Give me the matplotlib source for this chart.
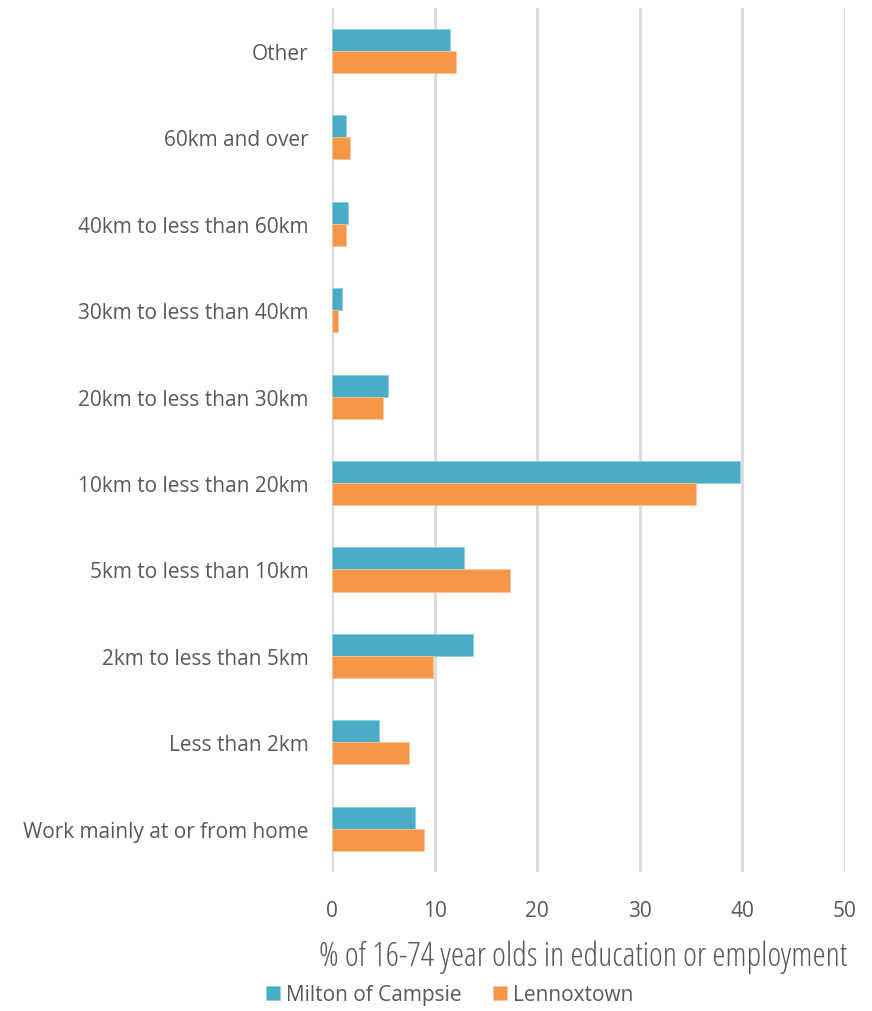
import matplotlib.pyplot as plt
import numpy as np

categories = ["Work mainly at or from home", "Less than 2km", "2km to less than 5km",
              "5km to less than 10km", "10km to less than 20km", "20km to less than 30km",
              "30km to less than 40km", "40km to less than 60km", "60km and over", "Other"]
milton = [8.1, 4.6, 13.7, 12.85, 39.8, 5.5, 1.0, 1.6, 1.4, 11.5]
lennox = [8.95, 7.5, 9.85, 17.4, 35.5, 5.0, 0.6, 1.4, 1.75, 12.1]
series_names = ["Milton of Campsie", "Lennoxtown"]
xticks = [0, 10, 20, 30, 40, 50]

blue = "#4BACC6"
orange = "#F79646"
grey = "#595959"

plt.rcParams['font.family'] = ['Open Sans', 'DejaVu Sans']

fig = plt.figure(figsize=(8.72, 10.12), dpi=100)
ax = fig.add_axes([0.3807, 0.1374, 0.5883, 0.8539])

y = np.arange(len(categories))
h = 0.255
ax.barh(y + h / 2, milton, height=h, color=blue, edgecolor="#8fcfe0", linewidth=0.6,
        label=series_names[0], zorder=3)
ax.barh(y - h / 2, lennox, height=h, color=orange, edgecolor="#fbc3a0", linewidth=0.6,
        label=series_names[1], zorder=3)

ax.set_xlim(0, 50)
ax.set_ylim(-0.5, len(categories) - 0.5)
ax.set_xticks(xticks)
ax.set_xticklabels([str(t) for t in xticks], fontsize=15, color=grey)
ax.set_yticks(y)
ax.set_yticklabels(categories, fontsize=15, color=grey)
ax.tick_params(axis='x', length=0, pad=20)
ax.tick_params(axis='y', length=0, pad=17)
ax.xaxis.grid(True, color="#d9d9d9", linewidth=2, zorder=0)
for s in ax.spines.values():
    s.set_visible(False)

fig.text(0.6686, 0.0545, "% of 16-74 year olds in education or employment", ha="center",
         va="center", fontsize=24, color=grey, fontstretch='condensed',
         family=['Liberation Sans Narrow', 'Open Sans', 'DejaVu Sans'])

leg = fig.legend(loc="center", bbox_to_anchor=(0.5155, 0.016), ncol=2, frameon=False,
                 fontsize=15, handlelength=0.67, handleheight=0.67, handletextpad=0.3,
                 columnspacing=1.5)
for t in leg.get_texts():
    t.set_color(grey)

fig.savefig("out.png", dpi=100)
